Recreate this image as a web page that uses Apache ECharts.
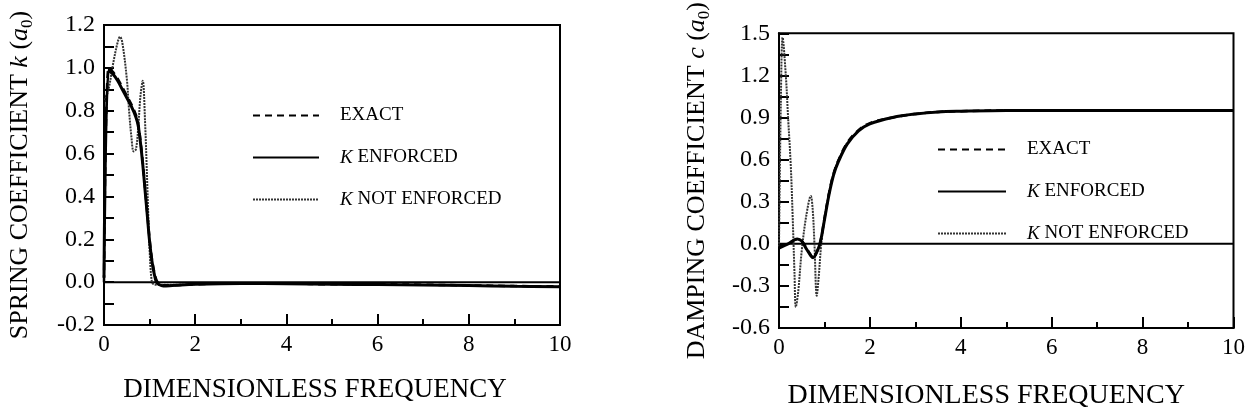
<!DOCTYPE html>
<html>
<head>
<meta charset="utf-8">
<script src="https://cdn.jsdelivr.net/npm/echarts@6/dist/echarts.min.js"></script>
<style>
html,body{margin:0;padding:0;background:#fff;}
#c{width:1248px;height:417px;}
</style>
</head>
<body>
<div id="c"></div>
<script>
// ---------- data: spring coefficient k(a0) ----------
const kExactX   = [0, 0.1, 0.2, 0.3, 0.4, 0.5, 0.6, 0.7, 0.75, 0.8, 0.85, 0.9, 0.95, 1.0, 1.05, 1.1, 1.15, 1.2, 1.3, 1.5, 2, 3, 4, 5, 6, 7, 8, 9, 10];
const kExactY   = [0.0, 1.0, 0.98, 0.95, 0.91, 0.87, 0.83, 0.78, 0.74, 0.66, 0.56, 0.44, 0.32, 0.2, 0.11, 0.05, 0.01, -0.005, -0.015, -0.015, -0.01, -0.005, -0.006, -0.01, -0.01, -0.012, -0.015, -0.018, -0.02];
const kEnfX     = [0, 0.1, 0.2, 0.3, 0.4, 0.5, 0.6, 0.7, 0.75, 0.8, 0.85, 0.9, 0.95, 1.0, 1.05, 1.1, 1.15, 1.2, 1.3, 1.5, 2, 3, 4, 5, 6, 7, 8, 9, 10];
const kEnfY     = [0.02, 0.99, 0.97, 0.94, 0.9, 0.86, 0.82, 0.77, 0.73, 0.65, 0.55, 0.43, 0.31, 0.19, 0.1, 0.04, 0.0, -0.01, -0.018, -0.016, -0.01, -0.006, -0.007, -0.01, -0.011, -0.013, -0.016, -0.019, -0.021];
const kNotX     = [0.02, 0.1, 0.2, 0.3, 0.35, 0.4, 0.5, 0.55, 0.6, 0.65, 0.7, 0.75, 0.8, 0.85, 0.9, 0.95, 1.0, 1.05, 1.1, 1.2, 1.5, 2];
const kNotY     = [0.85, 0.9, 1.02, 1.12, 1.145, 1.12, 0.95, 0.8, 0.68, 0.61, 0.62, 0.72, 0.87, 0.94, 0.75, 0.45, 0.15, 0.0, -0.01, -0.012, -0.012, -0.01];

// ---------- data: damping coefficient c(a0) ----------
const cExactX   = [0, 0.2, 0.4, 0.5, 0.6, 0.7, 0.75, 0.8, 0.9, 1.0, 1.1, 1.2, 1.3, 1.5, 1.75, 2.0, 2.5, 3.0, 3.5, 4, 5, 6, 7, 8, 9, 10];
const cExactY   = [-0.02, 0.0, 0.03, 0.02, -0.03, -0.08, -0.1, -0.08, 0.0, 0.18, 0.36, 0.5, 0.59, 0.72, 0.81, 0.86, 0.9, 0.925, 0.94, 0.945, 0.95, 0.95, 0.95, 0.95, 0.95, 0.95];
const cEnfX     = [0, 0.2, 0.4, 0.5, 0.6, 0.7, 0.75, 0.8, 0.9, 1.0, 1.1, 1.2, 1.3, 1.5, 1.75, 2.0, 2.5, 3.0, 3.5, 4, 5, 6, 7, 8, 9, 10];
const cEnfY     = [-0.03, 0.0, 0.035, 0.02, -0.035, -0.085, -0.1, -0.08, 0.0, 0.17, 0.35, 0.49, 0.58, 0.71, 0.805, 0.855, 0.9, 0.925, 0.94, 0.945, 0.95, 0.95, 0.95, 0.95, 0.95, 0.95];
const cNotX     = [0, 0.04, 0.08, 0.15, 0.2, 0.26, 0.3, 0.34, 0.37, 0.42, 0.5, 0.6, 0.7, 0.74, 0.78, 0.83, 0.87, 0.93, 1.0, 1.1, 1.2, 1.3, 1.5];
const cNotY     = [-0.02, 1.0, 1.47, 1.2, 0.9, 0.55, 0.2, -0.2, -0.45, -0.35, -0.05, 0.2, 0.34, 0.25, 0.0, -0.37, -0.25, 0.0, 0.18, 0.36, 0.5, 0.59, 0.72];

// ---------- axes / labels ----------
const xTitle = 'DIMENSIONLESS FREQUENCY';
const legendNames = ['EXACT', 'K ENFORCED', 'K NOT ENFORCED'];
const zeroLineX = [0, 10];
const zeroLineY = [0, 0];

const zip = (xs, ys) => xs.map((x, i) => [x, ys[i]]);
const FONT = 'Liberation Serif';

const nameRich = {
  n: {fontFamily: FONT, fontSize: 26, color: '#000', lineHeight: 32},
  i: {fontFamily: FONT, fontSize: 26, color: '#000', fontStyle: 'italic', lineHeight: 32},
  s: {fontFamily: FONT, fontSize: 17, color: '#000', verticalAlign: 'bottom', lineHeight: 32}
};

function xAxisCfg(gi, gap, size, shift) {
  return {
    type: 'value', gridIndex: gi, min: 0, max: 10, interval: 2,
    name: xTitle, nameLocation: 'middle', nameGap: gap,
    nameTextStyle: {fontFamily: FONT, fontSize: size, color: '#000', padding: [0, shift, 0, 0]},
    axisLine: {onZero: false, lineStyle: {color: '#000', width: 2}},
    axisTick: {inside: true, length: 11, lineStyle: {color: '#000', width: 2}},
    minorTick: {show: true, splitNumber: 2, length: 6, lineStyle: {color: '#000', width: 2}},
    axisLabel: {fontFamily: FONT, fontSize: 23, color: '#000', margin: 8},
    splitLine: {show: false}
  };
}
function yAxisCfg(gi, min, max, interval, name, gap) {
  return {
    type: 'value', gridIndex: gi, min: min, max: max, interval: interval,
    name: name, nameLocation: 'middle', nameRotate: 90, nameGap: gap,
    nameTextStyle: {rich: nameRich},
    axisLine: {lineStyle: {color: '#000', width: 2}},
    axisTick: {inside: true, length: 10, lineStyle: {color: '#000', width: 2}},
    minorTick: {show: true, splitNumber: 2, length: 10, lineStyle: {color: '#000', width: 2}},
    axisLabel: {fontFamily: FONT, fontSize: 24, color: '#000', margin: 9,
      formatter: v => v.toFixed(1)},
    splitLine: {show: false}
  };
}
function seriesSet(gi, exact, enf, notEnf, zero) {
  const base = {type: 'line', xAxisIndex: gi, yAxisIndex: gi, symbol: 'none', smooth: 0.35, silent: true,
    itemStyle: {color: '#000', opacity: 0}};
  return [
    Object.assign({}, base, {name: '', data: zero, smooth: false, lineStyle: {color: '#000', width: 2}}),
    Object.assign({}, base, {name: legendNames[2], data: notEnf, lineStyle: {color: '#333', width: 2, type: [2, 1]}}),
    Object.assign({}, base, {name: legendNames[0], data: exact, lineStyle: {color: '#000', width: 2.5, type: [7, 5]}}),
    Object.assign({}, base, {name: legendNames[1], data: enf, lineStyle: {color: '#000', width: 3}})
  ];
}
function legendCfg(left, top, w) {
  return {
    data: legendNames, left: left, top: top, orient: 'vertical', padding: 0,
    itemWidth: w, itemHeight: 14, itemGap: 23, selectedMode: false,
    itemStyle: {opacity: 0},
    formatter: n => n.replace(/^K /, '{i|K} '),
    textStyle: {fontFamily: FONT, fontSize: 19, color: '#000', padding: [0, 0, 0, 16],
      rich: {i: {fontFamily: FONT, fontSize: 19, fontStyle: 'italic', color: '#000'}}}
  };
}

const chart = echarts.init(document.getElementById('c'), null, {renderer: 'canvas'});
chart.setOption({
  backgroundColor: '#fff',
  animation: false,
  grid: [
    {left: 104, right: 688, top: 25, bottom: 92, show: true, borderColor: '#000', borderWidth: 2, containLabel: false},
    {left: 779, right: 13, top: 28, bottom: 89, show: true, borderColor: '#000', borderWidth: 2, containLabel: false}
  ],
  legend: [legendCfg(252, 106, 66), legendCfg(937, 140, 68)],
  xAxis: [xAxisCfg(0, 51, 27, 34), xAxisCfg(1, 54, 28, 40)],
  yAxis: [
    yAxisCfg(0, -0.2, 1.2, 0.2, '{n|SPRING COEFFICIENT }{i|k}{n| (}{i|a}{s|0}{n|)}', 68),
    yAxisCfg(1, -0.6, 1.5, 0.3, '{n|DAMPING COEFFICIENT }{i|c}{n| (}{i|a}{s|0}{n|)}', 66)
  ],
  series: [].concat(
    seriesSet(0, zip(kExactX, kExactY), zip(kEnfX, kEnfY), zip(kNotX, kNotY), zip(zeroLineX, zeroLineY)),
    seriesSet(1, zip(cExactX, cExactY), zip(cEnfX, cEnfY), zip(cNotX, cNotY), zip(zeroLineX, zeroLineY))
  )
});
</script>
</body>
</html>
